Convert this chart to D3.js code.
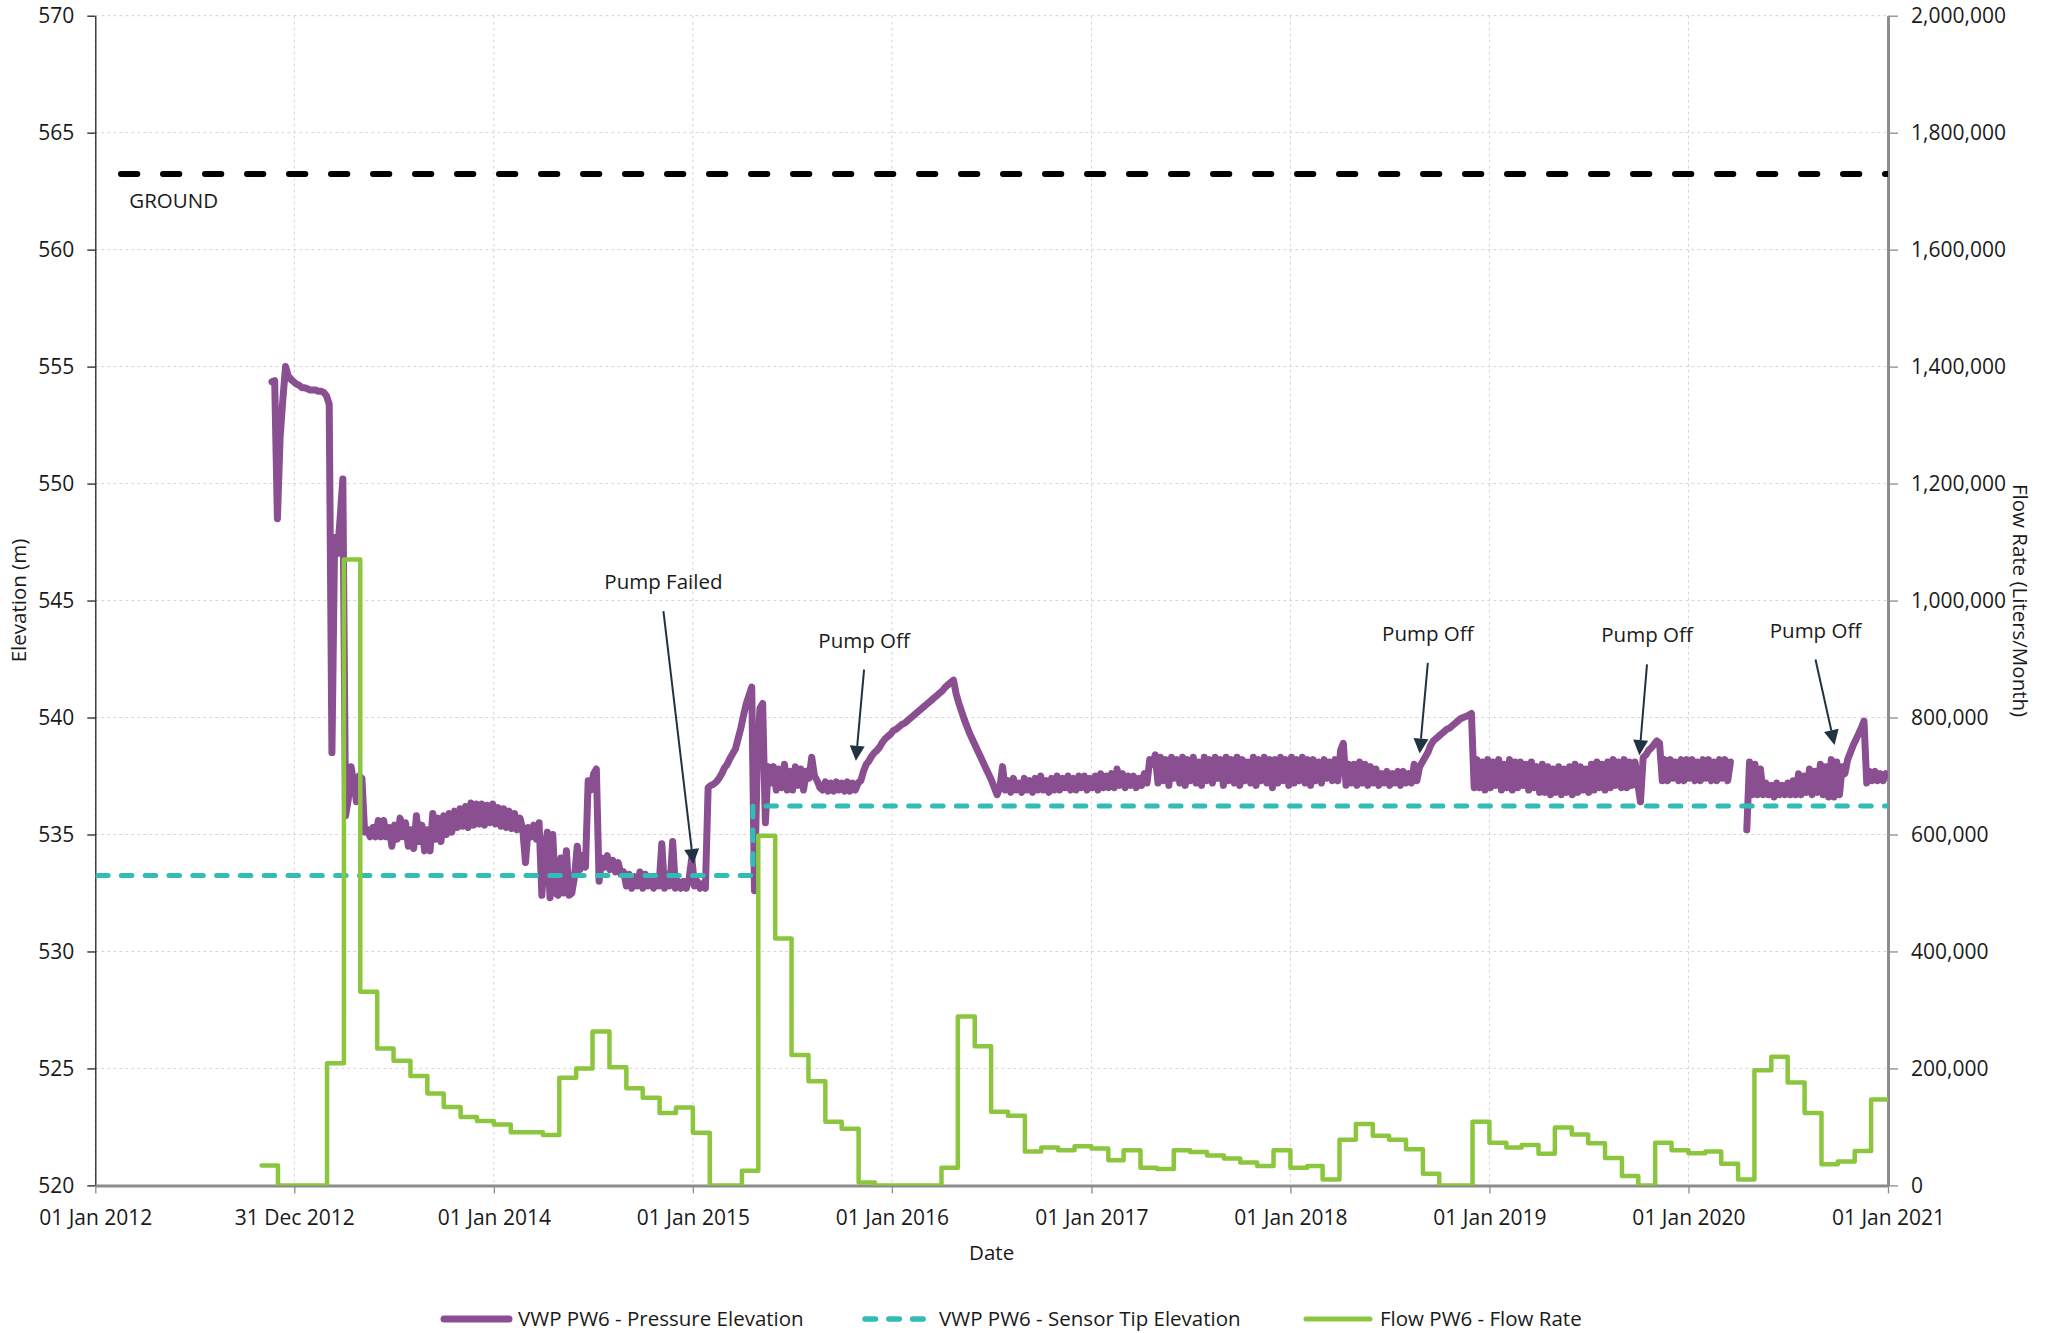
<!DOCTYPE html>
<html><head><meta charset="utf-8">
<script src="https://cdn.jsdelivr.net/npm/d3@7"></script>
<style>
html,body{margin:0;padding:0;background:#fff;}
svg text{font-family:"Open Sans","Segoe UI","Noto Sans",sans-serif;fill:#1a1a1a;}
</style></head><body>
<svg id="chart" width="2047" height="1333"></svg>
<script>
// ---------------- DATA ----------------
const xTickDates = ["2012-01-01","2012-12-31","2014-01-01","2015-01-01","2016-01-01","2017-01-01","2018-01-01","2019-01-01","2020-01-01","2021-01-01"];
const xTickLabels = ["01 Jan 2012","31 Dec 2012","01 Jan 2014","01 Jan 2015","01 Jan 2016","01 Jan 2017","01 Jan 2018","01 Jan 2019","01 Jan 2020","01 Jan 2021"];
const leftTicks = [520,525,530,535,540,545,550,555,560,565,570];
const rightTicks = [0,200000,400000,600000,800000,1000000,1200000,1400000,1600000,1800000,2000000];

const seriesNames = ["VWP PW6 - Pressure Elevation","VWP PW6 - Sensor Tip Elevation","Flow PW6 - Flow Rate"];

const groundElevation = 563.23;
const groundLabel = "GROUND";

const sensorTipDates = ["2012-01-01","2015-04-21","2015-04-21","2021-01-01"];
const sensorTipValues = [533.25,533.25,536.22,536.22];

// monthly flow (Liters/Month), first month Nov 2012, last Dec 2020
const flowStartMonth = "2012-11-01";
const flowEndDate = "2021-01-01";
const flowValues = [
 34000,0,0,0,209000,1070000,331000,234000,213000,187000,157000,134000,117000,110000,
 104000,91000,91000,86000,184000,200000,263000,202000,166000,150000,124000,133000,
 90000,0,0,25000,598000,422000,223000,178000,109000,97000,5000,0,
 0,0,0,30000,289000,238000,126000,119000,58000,65000,60000,67000,
 63000,43000,60000,30000,28000,60000,57000,51000,46000,39000,33000,60000,
 30000,33000,10000,78000,105000,85000,78000,62000,20000,0,0,109000,
 73000,65000,69000,54000,99000,87000,72000,47000,16000,0,73000,60000,
 55000,58000,37000,10000,197000,220000,176000,124000,36000,41000,59000,147000
];

// pressure elevation (m), one reading every 5 days from 20 Nov 2012 (null = no data)
const pressureStartDate = "2012-11-20";
const pressureStepDays = 5;
const pressureValues = [
 554.35,554.4,548.5,552.0,553.6,555.0,554.6,554.45,554.35,554.25,
 554.2,554.1,554.1,554.05,554.0,554.0,554.0,553.95,553.95,553.9,
 553.75,553.4,538.5,547.7,547.0,548.5,550.2,535.8,536.5,537.9,
 537.2,536.4,537.5,537.4,535.1,535.2,534.9,535.3,534.9,535.6,
 534.9,535.6,534.9,535.3,534.5,535.4,534.8,535.7,534.9,535.5,
 534.5,535.2,534.4,535.8,534.7,535.4,534.3,535.2,534.3,535.9,
 534.8,535.7,534.7,535.8,535.0,535.9,535.1,536.0,535.3,536.1,
 535.35,536.2,535.3,536.35,535.4,536.3,535.45,536.3,535.4,536.25,
 535.5,536.3,535.45,536.15,535.35,536.1,535.3,536.0,535.25,535.9,
 535.2,535.7,535.2,533.8,535.3,534.9,535.4,534.8,535.5,532.4,
 534.2,535.1,532.3,535.0,532.5,532.4,534.0,532.5,534.3,532.4,
 532.5,533.2,534.5,533.5,534.1,533.6,537.3,536.9,537.6,537.8,
 533.0,534.0,533.6,534.1,533.5,533.9,533.4,533.8,533.3,533.4,
 532.8,533.3,532.7,533.2,532.8,533.4,532.7,533.3,532.8,533.2,
 532.7,533.2,532.8,534.6,532.7,533.3,532.8,534.7,532.7,533.0,
 532.7,533.0,532.7,533.1,534.0,532.8,533.0,532.7,532.9,532.7,
 537.0,537.1,537.15,537.25,537.4,537.6,537.85,538.0,538.25,538.45,
 538.65,539.1,539.55,540.1,540.6,540.95,541.3,532.6,538.0,540.4,
 540.6,535.5,537.9,537.2,537.9,536.9,537.8,537.0,538.0,536.9,
 537.7,536.9,537.9,537.1,537.8,536.9,537.7,537.4,538.3,537.5,
 537.3,537.0,536.9,537.25,536.85,537.2,536.85,537.25,536.9,537.2,
 536.85,537.25,536.85,537.2,536.9,537.2,537.3,537.7,538.0,538.15,
 538.35,538.5,538.6,538.75,538.95,539.1,539.2,539.3,539.45,539.5,
 539.6,539.7,539.75,539.85,539.95,540.05,540.15,540.25,540.35,540.45,
 540.55,540.65,540.75,540.85,540.95,541.05,541.15,541.3,541.4,541.5,
 541.6,541.0,540.6,540.25,539.9,539.6,539.3,539.05,538.8,538.55,
 538.3,538.05,537.8,537.55,537.3,537.0,536.7,537.0,537.9,536.9,
 537.3,536.8,537.4,536.9,537.2,536.8,537.4,536.9,537.3,536.8,
 537.4,536.9,537.5,536.9,537.3,536.8,537.4,536.9,537.5,536.9,
 537.4,537.0,537.5,536.9,537.4,536.9,537.5,537.0,537.5,536.9,
 537.4,537.0,537.5,536.9,537.6,537.0,537.5,537.0,537.6,537.0,
 537.8,537.1,537.6,537.0,537.5,537.1,537.5,537.0,537.4,537.1,
 537.6,537.2,538.2,538.0,538.4,537.2,538.3,537.3,538.2,537.1,
 538.3,537.4,538.2,537.2,538.3,537.1,538.2,537.3,538.3,537.2,
 538.1,537.1,538.3,537.3,538.2,537.2,538.3,537.4,538.2,537.1,
 538.3,537.3,538.2,537.2,538.3,537.1,538.2,537.3,538.1,537.2,
 538.3,537.1,538.2,537.3,538.3,537.2,538.2,537.0,538.2,537.2,
 538.3,537.3,538.2,537.1,538.3,537.2,538.2,537.3,538.3,537.2,
 538.2,537.1,538.2,537.3,538.1,537.2,538.2,537.4,538.1,537.3,
 538.2,537.3,538.6,538.9,537.1,538.0,537.2,538.0,537.1,538.1,
 537.2,538.0,537.1,537.9,537.2,537.8,537.1,537.6,537.2,537.7,
 537.1,537.6,537.2,537.7,537.1,537.7,537.2,537.6,537.2,538.0,
 537.3,537.9,538.1,538.3,538.5,538.8,539.0,539.1,539.2,539.3,
 539.4,539.5,539.55,539.65,539.75,539.85,539.95,540.0,540.05,540.1,
 540.17,537.0,538.2,537.0,538.1,536.9,538.2,537.0,538.1,537.1,
 538.2,536.9,538.0,537.0,538.2,536.9,538.1,537.0,538.1,537.1,
 538.0,536.9,538.1,537.0,537.9,536.8,538.0,536.8,537.9,536.7,
 537.8,536.8,537.9,536.7,537.8,536.8,537.9,536.7,538.0,536.8,
 537.9,536.9,537.8,536.8,538.0,536.9,538.1,537.0,538.0,536.9,
 538.1,537.0,538.2,537.1,538.1,537.0,538.2,537.0,538.1,537.1,
 538.1,537.2,536.4,538.3,538.4,538.6,538.7,538.85,539.0,538.9,
 537.3,538.2,537.3,538.2,537.4,538.1,537.3,538.2,537.3,538.2,
 537.4,538.2,537.3,538.1,537.3,538.2,537.4,538.2,537.3,538.1,
 537.3,538.2,537.4,538.2,537.3,538.1,null,null,null,null,
 null,535.2,538.1,536.7,538.0,536.7,537.8,536.7,537.2,536.7,
 537.1,536.6,537.2,536.7,537.1,536.7,537.2,536.7,537.3,536.7,
 537.6,536.7,537.5,536.8,537.8,536.7,537.7,536.8,538.0,536.7,
 537.9,536.6,538.2,536.6,538.1,536.7,537.9,537.6,538.2,538.5,
 538.8,539.05,539.3,539.55,539.85,537.2,537.7,537.3,537.7,537.3,
 537.6,537.3,537.6
];

const annotationLabels = ["Pump Failed","Pump Off","Pump Off","Pump Off","Pump Off"];
const annotationLabelDates = ["2014-11-08","2015-11-11","2018-09-10","2019-10-17","2020-08-21"];
const annotationLabelValues = [545.49,542.99,543.28,543.21,543.42];
const annotationTipDates = ["2015-01-02","2015-10-27","2018-08-26","2019-10-03","2020-09-25"];
const annotationTipValues = [533.74,538.15,538.46,538.39,538.82];

// ---------------- CHART ----------------
const W = 2047, H = 1333;
const margin = {left: 95.3, right: 159, top: 15.7, bottom: 147.6};
const X0 = margin.left, X1 = W - margin.right, Y0 = margin.top, Y1 = H - margin.bottom;
const parse = d3.utcParse("%Y-%m-%d");

const colors = {pressure:"#8a4f91", sensor:"#31bdb5", flow:"#8cc63f", ground:"#000", arrow:"#1f3440"};
const tickFont = 21, textFont = 20.5;

const x = d3.scaleUtc().domain([parse(xTickDates[0]), parse(xTickDates[xTickDates.length-1])]).range([X0, X1]);
const yL = d3.scaleLinear().domain([520,570]).range([Y1,Y0]);
const yR = d3.scaleLinear().domain([0,2000000]).range([Y1,Y0]);

const svg = d3.select("#chart");
svg.append("defs").append("clipPath").attr("id","plotclip")
  .append("rect").attr("x",X0).attr("y",Y0-2).attr("width",X1-X0).attr("height",Y1-Y0+2);

// grid
const grid = svg.append("g");
grid.selectAll("line.h").data(leftTicks).join("line")
  .attr("x1",X0).attr("x2",X1).attr("y1",d=>yL(d)).attr("y2",d=>yL(d))
  .attr("stroke","#d6d6d6").attr("stroke-width",1).attr("stroke-dasharray","3,3");
grid.selectAll("line.v").data(xTickDates.map(parse)).join("line")
  .attr("x1",d=>x(d)).attr("x2",d=>x(d)).attr("y1",Y0).attr("y2",Y1)
  .attr("stroke","#d6d6d6").attr("stroke-width",1).attr("stroke-dasharray","3,3");

// axes
const axL = svg.append("g").attr("transform",`translate(${X0},0)`)
  .call(d3.axisLeft(yL).tickValues(leftTicks).tickSize(8).tickSizeOuter(0).tickPadding(13));
axL.select(".domain").attr("stroke","#222").attr("stroke-width",1.3);
axL.selectAll(".tick line").attr("stroke","#222").attr("stroke-width",1.3);
axL.selectAll("text").attr("font-size",tickFont).attr("fill","#1a1a1a");

const axB = svg.append("g").attr("transform",`translate(0,${Y1})`)
  .call(d3.axisBottom(x).tickValues(xTickDates.map(parse)).tickFormat((d,i)=>xTickLabels[i]).tickSize(8).tickSizeOuter(0));
axB.select(".domain").attr("stroke","#8c8c8c").attr("stroke-width",3);
axB.selectAll(".tick line").attr("stroke","#8c8c8c").attr("stroke-width",1.3);
axB.selectAll("text").attr("font-size",tickFont).attr("y",40).attr("dy",null).attr("fill","#1a1a1a");

const axR = svg.append("g").attr("transform",`translate(${X1},0)`)
  .call(d3.axisRight(yR).tickValues(rightTicks).tickFormat(d3.format(",")).tickSize(10).tickSizeOuter(0).tickPadding(13));
axR.select(".domain").attr("stroke","#8c8c8c").attr("stroke-width",3);
axR.selectAll(".tick line").attr("stroke","#8c8c8c").attr("stroke-width",1.3);
axR.selectAll("text").attr("font-size",tickFont).attr("fill","#1a1a1a");

// axis titles
svg.append("text").attr("transform",`translate(18,${(Y0+Y1)/2}) rotate(-90)`)
  .attr("text-anchor","middle").attr("dominant-baseline","central").attr("font-size",textFont).text("Elevation (m)");
svg.append("text").attr("transform",`translate(2021,${(Y0+Y1)/2}) rotate(90)`)
  .attr("text-anchor","middle").attr("dominant-baseline","central").attr("font-size",textFont).text("Flow Rate (Liters/Month)");
svg.append("text").attr("x",(X0+X1)/2).attr("y",1260).attr("text-anchor","middle").attr("font-size",textFont).text("Date");

// series
const plot = svg.append("g").attr("clip-path","url(#plotclip)");

const pressureData = pressureValues.map((v,i)=>({date:d3.utcDay.offset(parse(pressureStartDate), i*pressureStepDays), value:v}));
plot.append("path").datum(pressureData)
  .attr("fill","none").attr("stroke",colors.pressure).attr("stroke-width",7)
  .attr("stroke-linejoin","round").attr("stroke-linecap","round")
  .attr("d", d3.line().defined(d=>d.value!=null).x(d=>x(d.date)).y(d=>yL(d.value)));

const sensorData = sensorTipDates.map((d,i)=>({date:parse(d), value:sensorTipValues[i]}));
plot.append("path").datum(sensorData)
  .attr("fill","none").attr("stroke",colors.sensor).attr("stroke-width",5)
  .attr("stroke-linecap","round").attr("stroke-dasharray","10.5,13.3").attr("stroke-dashoffset",21.5)
  .attr("d", d3.line().x(d=>x(d.date)).y(d=>yL(d.value)));

const flowData = flowValues.map((v,j)=>({date:d3.utcMonth.offset(parse(flowStartMonth), j), value:v}));
flowData.push({date:parse(flowEndDate), value:flowValues[flowValues.length-1]});
plot.append("path").datum(flowData)
  .attr("fill","none").attr("stroke",colors.flow).attr("stroke-width",4.5)
  .attr("stroke-linejoin","round").attr("stroke-linecap","round")
  .attr("d", d3.line().curve(d3.curveStepAfter).x(d=>x(d.date)).y(d=>yR(d.value)));

// ground line
plot.append("line").attr("x1",x.range()[0]).attr("x2",x.range()[1])
  .attr("y1",yL(groundElevation)).attr("y2",yL(groundElevation))
  .attr("stroke",colors.ground).attr("stroke-width",6).attr("stroke-linecap","round")
  .attr("stroke-dasharray","16.3,25.7").attr("stroke-dashoffset",16.3);
svg.append("text").attr("x",X0+34).attr("y",yL(groundElevation)+33.5).attr("font-size",textFont).text(groundLabel);

// annotations
const ann = svg.append("g");
annotationLabels.forEach((lab,i)=>{
  const lx = x(parse(annotationLabelDates[i])), ly = yL(annotationLabelValues[i]);
  const tx = x(parse(annotationTipDates[i])), ty = yL(annotationTipValues[i]);
  ann.append("text").attr("x",lx).attr("y",ly).attr("text-anchor","middle").attr("font-size",textFont).text(lab);
  const sx = lx, sy = ly + 22;
  const dx = tx - sx, dy = ty - sy, len = Math.hypot(dx,dy);
  const ux = dx/len, uy = dy/len, px = -uy, py = ux;
  const hl = 15, hw = 7.5;
  const bx = tx - ux*hl, by = ty - uy*hl;
  ann.append("line").attr("x1",sx).attr("y1",sy).attr("x2",bx).attr("y2",by)
    .attr("stroke",colors.arrow).attr("stroke-width",2);
  ann.append("path").attr("d",`M${tx},${ty}L${bx+px*hw},${by+py*hw}L${bx-px*hw},${by-py*hw}Z`)
    .attr("fill",colors.arrow);
});

// legend
const leg = svg.append("g");
const legY = 1319;
const legItems = [
  {name:seriesNames[0], x1:444, x2:509, color:colors.pressure, w:7, dash:null, tx:518},
  {name:seriesNames[1], x1:865, x2:927, color:colors.sensor, w:5.5, dash:"10.5,13.3", tx:939},
  {name:seriesNames[2], x1:1306, x2:1370, color:colors.flow, w:5, dash:null, tx:1380}
];
legItems.forEach(it=>{
  leg.append("line").attr("x1",it.x1).attr("x2",it.x2).attr("y1",legY).attr("y2",legY)
    .attr("stroke",it.color).attr("stroke-width",it.w).attr("stroke-linecap","round")
    .attr("stroke-dasharray",it.dash);
  leg.append("text").attr("x",it.tx).attr("y",legY+7).attr("font-size",textFont).text(it.name);
});
</script>
</body></html>
